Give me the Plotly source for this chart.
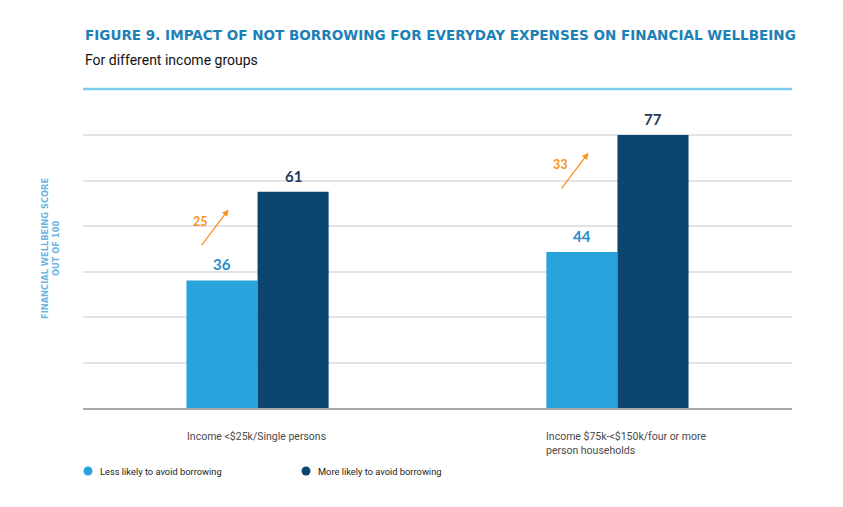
import plotly.graph_objects as go
import numpy as np

categories = ["Income <$25k/Single persons", "Income $75k-<$150k/four or more person households"]
category_labels = ["Income <$25k/Single persons", "Income $75k-<$150k/four or more<br>person households"]
less_likely = [36, 44]
more_likely = [61, 77]
series_names = ["Less likely to avoid borrowing", "More likely to avoid borrowing"]

LIGHT = "#28a3dc"
DARK = "#0b4570"
LIGHT_TXT = "#2a8cc4"
DARK_TXT = "#1f3b5c"
ORANGE = "#f7941d"

fig = go.Figure()
fig.add_trace(go.Bar(x=categories, y=less_likely, name=series_names[0],
                     marker=dict(color=LIGHT, line=dict(width=0)), showlegend=False))
fig.add_trace(go.Bar(x=categories, y=more_likely, name=series_names[1],
                     marker=dict(color=DARK, line=dict(width=0)), showlegend=False))

ymax = max(more_likely)
grid_vals = list(np.linspace(0, ymax, 7))

annotations = []
bar_px = 35.5
for i, c in enumerate(categories):
    annotations.append(dict(x=c, y=less_likely[i], xref="x", yref="y", text=f"<b>{less_likely[i]}</b>",
                            showarrow=False, xshift=-bar_px, yshift=16, yanchor="middle",
                            font=dict(family="Lato", size=15, color=LIGHT_TXT)))
    annotations.append(dict(x=c, y=more_likely[i], xref="x", yref="y", text=f"<b>{more_likely[i]}</b>",
                            showarrow=False, xshift=bar_px, yshift=16, yanchor="middle",
                            font=dict(family="Lato", size=15, color=DARK_TXT)))
    diff = more_likely[i] - less_likely[i]
    head_y = more_likely[i] - 5
    annotations.append(dict(x=c, y=head_y, xref="x", yref="y", text="", showarrow=True,
                            ax=-28, ay=37, xshift=-29, arrowhead=2, arrowsize=1, arrowwidth=1.3,
                            arrowcolor=ORANGE, standoff=0))
    annotations.append(dict(x=c, y=head_y, xref="x", yref="y", text=f"<b>{diff}</b>", showarrow=False,
                            xshift=-57, yshift=-12, yanchor="middle",
                            font=dict(family="Lato", size=12.5, color=ORANGE)))
    annotations.append(dict(x=c, y=0, xref="x", yref="y", text=category_labels[i], showarrow=False,
                            xanchor="left", yanchor="top", align="left", xshift=-2 * bar_px - 2, yshift=-20,
                            font=dict(family="Roboto", size=10.5, color="#4a4a4a")))

# page offset (browser body margin)
OFF = 8
W, H = 843, 507
# plot area in window pixels
PL, PR, PT, PB = 83, 792, 134, 408
L, T = PL - OFF, PT - OFF
R, B = W - (PR - OFF), H - (PB - OFF)
pw, ph = W - L - R, H - T - B

def px_x(x):
    return (x - OFF - L) / pw

def px_y(y):
    return (H - B - (y - OFF)) / ph

# title, subtitle
annotations.append(dict(x=px_x(83), y=px_y(35), xref="paper", yref="paper",
                        text="FIGURE 9. IMPACT OF NOT BORROWING FOR EVERYDAY EXPENSES ON FINANCIAL WELLBEING",
                        showarrow=False, xanchor="left", yanchor="middle",
                        font=dict(family="DejaVu Sans", size=13.55, color="#1d80b6", weight=700)))
annotations.append(dict(x=px_x(83), y=px_y(60), xref="paper", yref="paper", text="For different income groups",
                        showarrow=False, xanchor="left", yanchor="middle",
                        font=dict(family="Roboto", size=14, color="#111111")))
# y axis title
annotations.append(dict(x=px_x(50), y=px_y(249), xref="paper", yref="paper",
                        text="<b>FINANCIAL WELLBEING SCORE<br>OUT OF 100</b>", textangle=-90,
                        showarrow=False, xanchor="center", yanchor="middle",
                        font=dict(family="DejaVu Sans", size=8.3, color="#6cb6df")))
# legend
legend_x = [88, 306]
legend_colors = [LIGHT, DARK]
for lx, nm in zip(legend_x, series_names):
    annotations.append(dict(x=px_x(lx + 10), y=px_y(471), xref="paper", yref="paper", text=nm, showarrow=False,
                            xanchor="left", yanchor="middle",
                            font=dict(family="Roboto", size=9.3, color="#222222")))

shapes = [dict(type="line", xref="paper", yref="paper", x0=px_x(83), x1=px_x(792), y0=px_y(89), y1=px_y(89),
               line=dict(color="#7fcdee", width=2.5))]
for lx, col in zip(legend_x, legend_colors):
    shapes.append(dict(type="circle", xref="paper", yref="paper", x0=px_x(lx - 4.5), x1=px_x(lx + 4.5),
                       y0=px_y(471 + 4.5), y1=px_y(471 - 4.5), fillcolor=col, line=dict(width=0)))

fig.update_layout(
    width=W, height=H,
    margin=dict(l=L, r=R, t=T, b=B, pad=0),
    paper_bgcolor="white", plot_bgcolor="white",
    barmode="group", bargap=0.605, bargroupgap=0,
    annotations=annotations, shapes=shapes,
    xaxis=dict(range=[-0.485, 1.485], showticklabels=False, ticks="", showgrid=False,
               showline=True, linecolor="#a9a9a9", linewidth=2, zeroline=False, fixedrange=True),
    yaxis=dict(range=[0, ymax * 1.004], tickvals=grid_vals, showticklabels=False, ticks="",
               showgrid=True, gridcolor="#e3e3e3", gridwidth=1.5, zeroline=False, showline=False),
    showlegend=False,
)
fig.write_html("out.html")
